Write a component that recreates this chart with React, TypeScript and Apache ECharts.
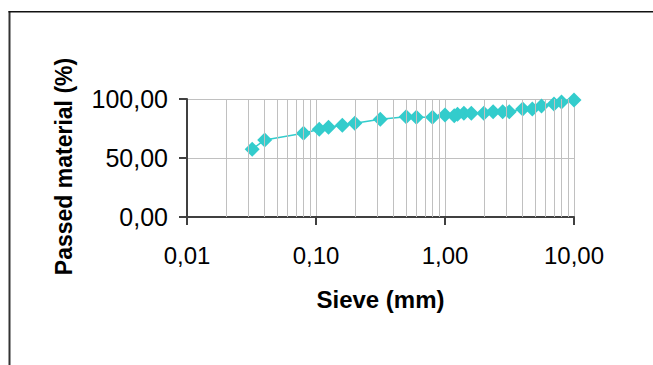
import React, { useEffect, useRef } from "react";
import * as echarts from "echarts";

// Sieve size (mm) and passed material (%)
const sieveSizes = [
  0.032, 0.04, 0.08, 0.106, 0.125, 0.16, 0.2, 0.315, 0.5, 0.6, 0.8, 1.0, 1.18,
  1.25, 1.4, 1.6, 2.0, 2.36, 2.8, 3.15, 4.0, 4.75, 5.6, 7.0, 8.0, 10.0,
];
const passedPercent = [
  57.4, 65.3, 70.9, 74.3, 76.0, 77.7, 79.4, 82.8, 85.0, 84.6, 84.5, 86.4, 85.8,
  87.0, 87.9, 87.9, 88.0, 89.2, 89.2, 89.3, 91.5, 91.5, 94.0, 95.8, 97.5, 99.2,
];
// minor log gridlines (2..9 in each decade)
const minorGridValues = [
  0.02, 0.03, 0.04, 0.05, 0.06, 0.07, 0.08, 0.09,
  0.2, 0.3, 0.4, 0.5, 0.6, 0.7, 0.8, 0.9,
  2, 3, 4, 5, 6, 7, 8, 9,
];
const xMin = 0.01;
const xMax = 10;
const yMin = 0;
const yMax = 100;
const yInterval = 50;
const xTitle = "Sieve (mm)";
const yTitle = "Passed material (%)";

const FONT = 'Arial, "Liberation Sans", sans-serif';
const fmt = (v: number) => Number(v).toFixed(2).replace(".", ",");

export default function App() {
  const ref = useRef<HTMLDivElement>(null);
  useEffect(() => {
    if (!ref.current) return;
    const chart = echarts.init(ref.current, null, { renderer: "svg" });
    const axisColor = "#404040";
    const gridColor = "#c0c0c0";
    chart.setOption({
      animation: false,
      backgroundColor: "#ffffff",
      grid: { left: 187, right: 79, top: 99, bottom: 148, containLabel: false },
      xAxis: {
        type: "log",
        logBase: 10,
        min: xMin,
        max: xMax,
        name: xTitle,
        nameLocation: "middle",
        nameGap: 70,
        nameTextStyle: { fontFamily: FONT, fontSize: 24, fontWeight: "bold", color: "#000" },
        axisLine: { show: true, lineStyle: { color: axisColor, width: 2 } },
        axisTick: { show: true, length: 8, inside: false, lineStyle: { color: axisColor, width: 2 } },
        axisLabel: {
          margin: 26,
          fontFamily: FONT,
          fontSize: 24,
          color: "#000",
          formatter: (v: number) => fmt(v),
        },
        splitLine: { show: true, lineStyle: { color: gridColor, width: 1 } },
        minorTick: { show: false },
        minorSplitLine: { show: false },
      },
      yAxis: {
        type: "value",
        min: yMin,
        max: yMax,
        interval: yInterval,
        name: yTitle,
        nameLocation: "middle",
        nameGap: 112,
        nameTextStyle: {
          fontFamily: FONT,
          fontSize: 23,
          fontWeight: "bold",
          color: "#000",
          padding: [0, 17, 0, 0],
        },
        axisLine: { show: true, lineStyle: { color: axisColor, width: 2 } },
        axisTick: { show: true, length: 8, inside: false, lineStyle: { color: axisColor, width: 2 } },
        axisLabel: {
          margin: 19,
          fontFamily: FONT,
          fontSize: 25,
          color: "#000",
          formatter: (v: number) => fmt(v),
        },
        splitLine: { show: true, lineStyle: { color: gridColor, width: 1 } },
      },
      graphic: [
        {
          type: "line",
          shape: { x1: 9.5, y1: 11, x2: 9.5, y2: 400 },
          style: { stroke: "#333333", lineWidth: 2 },
          silent: true,
        },
        {
          type: "line",
          shape: { x1: 8.5, y1: 11.75, x2: 700, y2: 11.75 },
          style: { stroke: "#111111", lineWidth: 1.5 },
          silent: true,
        },
      ],
      series: [
        {
          type: "line",
          data: [],
          z: 1,
          silent: true,
          markLine: {
            silent: true,
            symbol: ["none", "none"],
            label: { show: false },
            lineStyle: { color: gridColor, width: 1, type: "solid" },
            emphasis: { disabled: true },
            data: minorGridValues.map((v) => ({ xAxis: v })),
          },
        },
        {
          type: "line",
          z: 3,
          data: sieveSizes.map((s, i) => [s, passedPercent[i]]),
          symbol: "diamond",
          symbolSize: 15,
          showSymbol: true,
          itemStyle: { color: "#33cccc" },
          lineStyle: { color: "#33cccc", width: 1.5 },
        },
      ],
    });
    return () => chart.dispose();
  }, []);
  return (
    <div
      ref={ref}
      style={{ position: "fixed", left: 0, top: 0, width: 653, height: 365 }}
    />
  );
}
